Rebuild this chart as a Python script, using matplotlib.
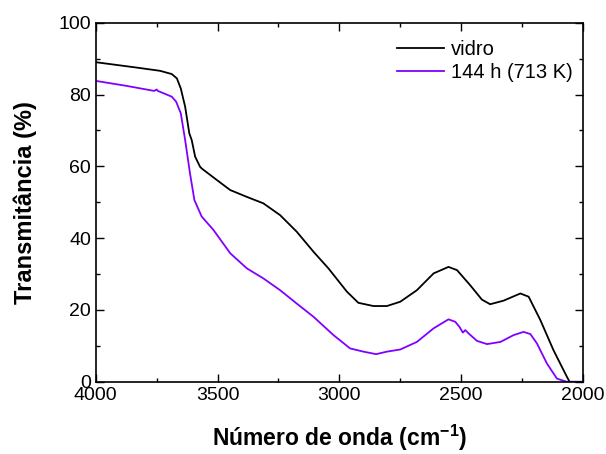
import numpy as np
import matplotlib
matplotlib.use("Agg")
from matplotlib import pyplot as plt
from matplotlib.ticker import MultipleLocator

plt.rcParams['font.family'] = ['Liberation Sans', 'DejaVu Sans']
plt.rcParams['mathtext.fontset'] = 'custom'
plt.rcParams['mathtext.rm'] = 'Liberation Sans:bold'
plt.rcParams['mathtext.default'] = 'rm'

# wavenumber (cm-1) and transmittance (%)
x_vidro = [4000, 3832, 3736, 3688, 3667, 3651, 3633, 3616, 3606, 3592, 3572, 3565,
           3503, 3448, 3380, 3312, 3243, 3175, 3106, 3045, 2969, 2922, 2860, 2805,
           2750, 2682, 2613, 2552, 2517, 2463, 2415, 2381, 2326, 2257, 2223, 2175,
           2121, 2066, 2055, 2000]
y_vidro = [89.0, 87.5, 86.6, 85.7, 84.5, 81.7, 76.6, 69.2, 67.3, 62.7, 59.9, 59.4,
           56.2, 53.4, 51.5, 49.7, 46.4, 41.8, 36.2, 31.6, 25.1, 22.0, 21.1, 21.1,
           22.3, 25.5, 30.2, 32.0, 31.1, 26.9, 22.9, 21.6, 22.6, 24.6, 23.7, 17.2,
           8.8, 1.4, 0.0, 0.0]

x_144h = [4000, 3873, 3760, 3750, 3745, 3688, 3670, 3651, 3633, 3613, 3595, 3565,
          3517, 3448, 3380, 3312, 3243, 3175, 3106, 3024, 2956, 2901, 2849, 2805,
          2750, 2682, 2613, 2552, 2524, 2507, 2493, 2483, 2470, 2435, 2394, 2339,
          2285, 2244, 2216, 2189, 2148, 2107, 2066, 2000]
y_144h = [83.8, 82.4, 81.0, 81.4, 81.0, 79.4, 78.0, 74.8, 67.3, 58.0, 50.6, 46.0,
          42.3, 35.8, 31.6, 28.8, 25.5, 21.8, 18.1, 13.0, 9.3, 8.4, 7.7, 8.4,
          9.0, 11.1, 14.9, 17.4, 16.7, 15.3, 13.7, 14.4, 13.5, 11.4, 10.5, 11.1,
          13.0, 13.9, 13.3, 10.7, 5.1, 0.9, 0.0, 0.0]

fig = plt.figure(figsize=(6.06, 4.54), dpi=100)
ax = fig.add_axes([0.158, 0.159, 0.804, 0.791])

ax.plot(x_vidro, y_vidro, color='black', lw=1.3, label='vidro')
ax.plot(x_144h, y_144h, color='#8000ff', lw=1.3, label='144 h (713 K)')

ax.set_xlim(4000, 2000)
ax.set_ylim(0, 100)
ax.xaxis.set_major_locator(MultipleLocator(500))
ax.xaxis.set_minor_locator(MultipleLocator(250))
ax.yaxis.set_major_locator(MultipleLocator(20))
ax.yaxis.set_minor_locator(MultipleLocator(10))
ax.tick_params(which='both', direction='in', top=True, right=True, labelsize=14, width=1)
ax.tick_params(which='major', length=6)
ax.tick_params(which='minor', length=3)
for s in ax.spines.values():
    s.set_linewidth(1.2)

ax.set_xlabel('Número de onda (cm$^{-1}$)', fontsize=16.5, fontweight='bold', labelpad=14)
ax.set_ylabel('Transmitância (%)', fontsize=17, fontweight='bold', labelpad=15)

ax.legend(loc='upper right', frameon=False, fontsize=14.5, handlelength=2.3,
          handletextpad=0.35, labelspacing=0.2, borderaxespad=0,
          bbox_to_anchor=(0.995, 0.975))

fig.savefig('out.png', dpi=100)
